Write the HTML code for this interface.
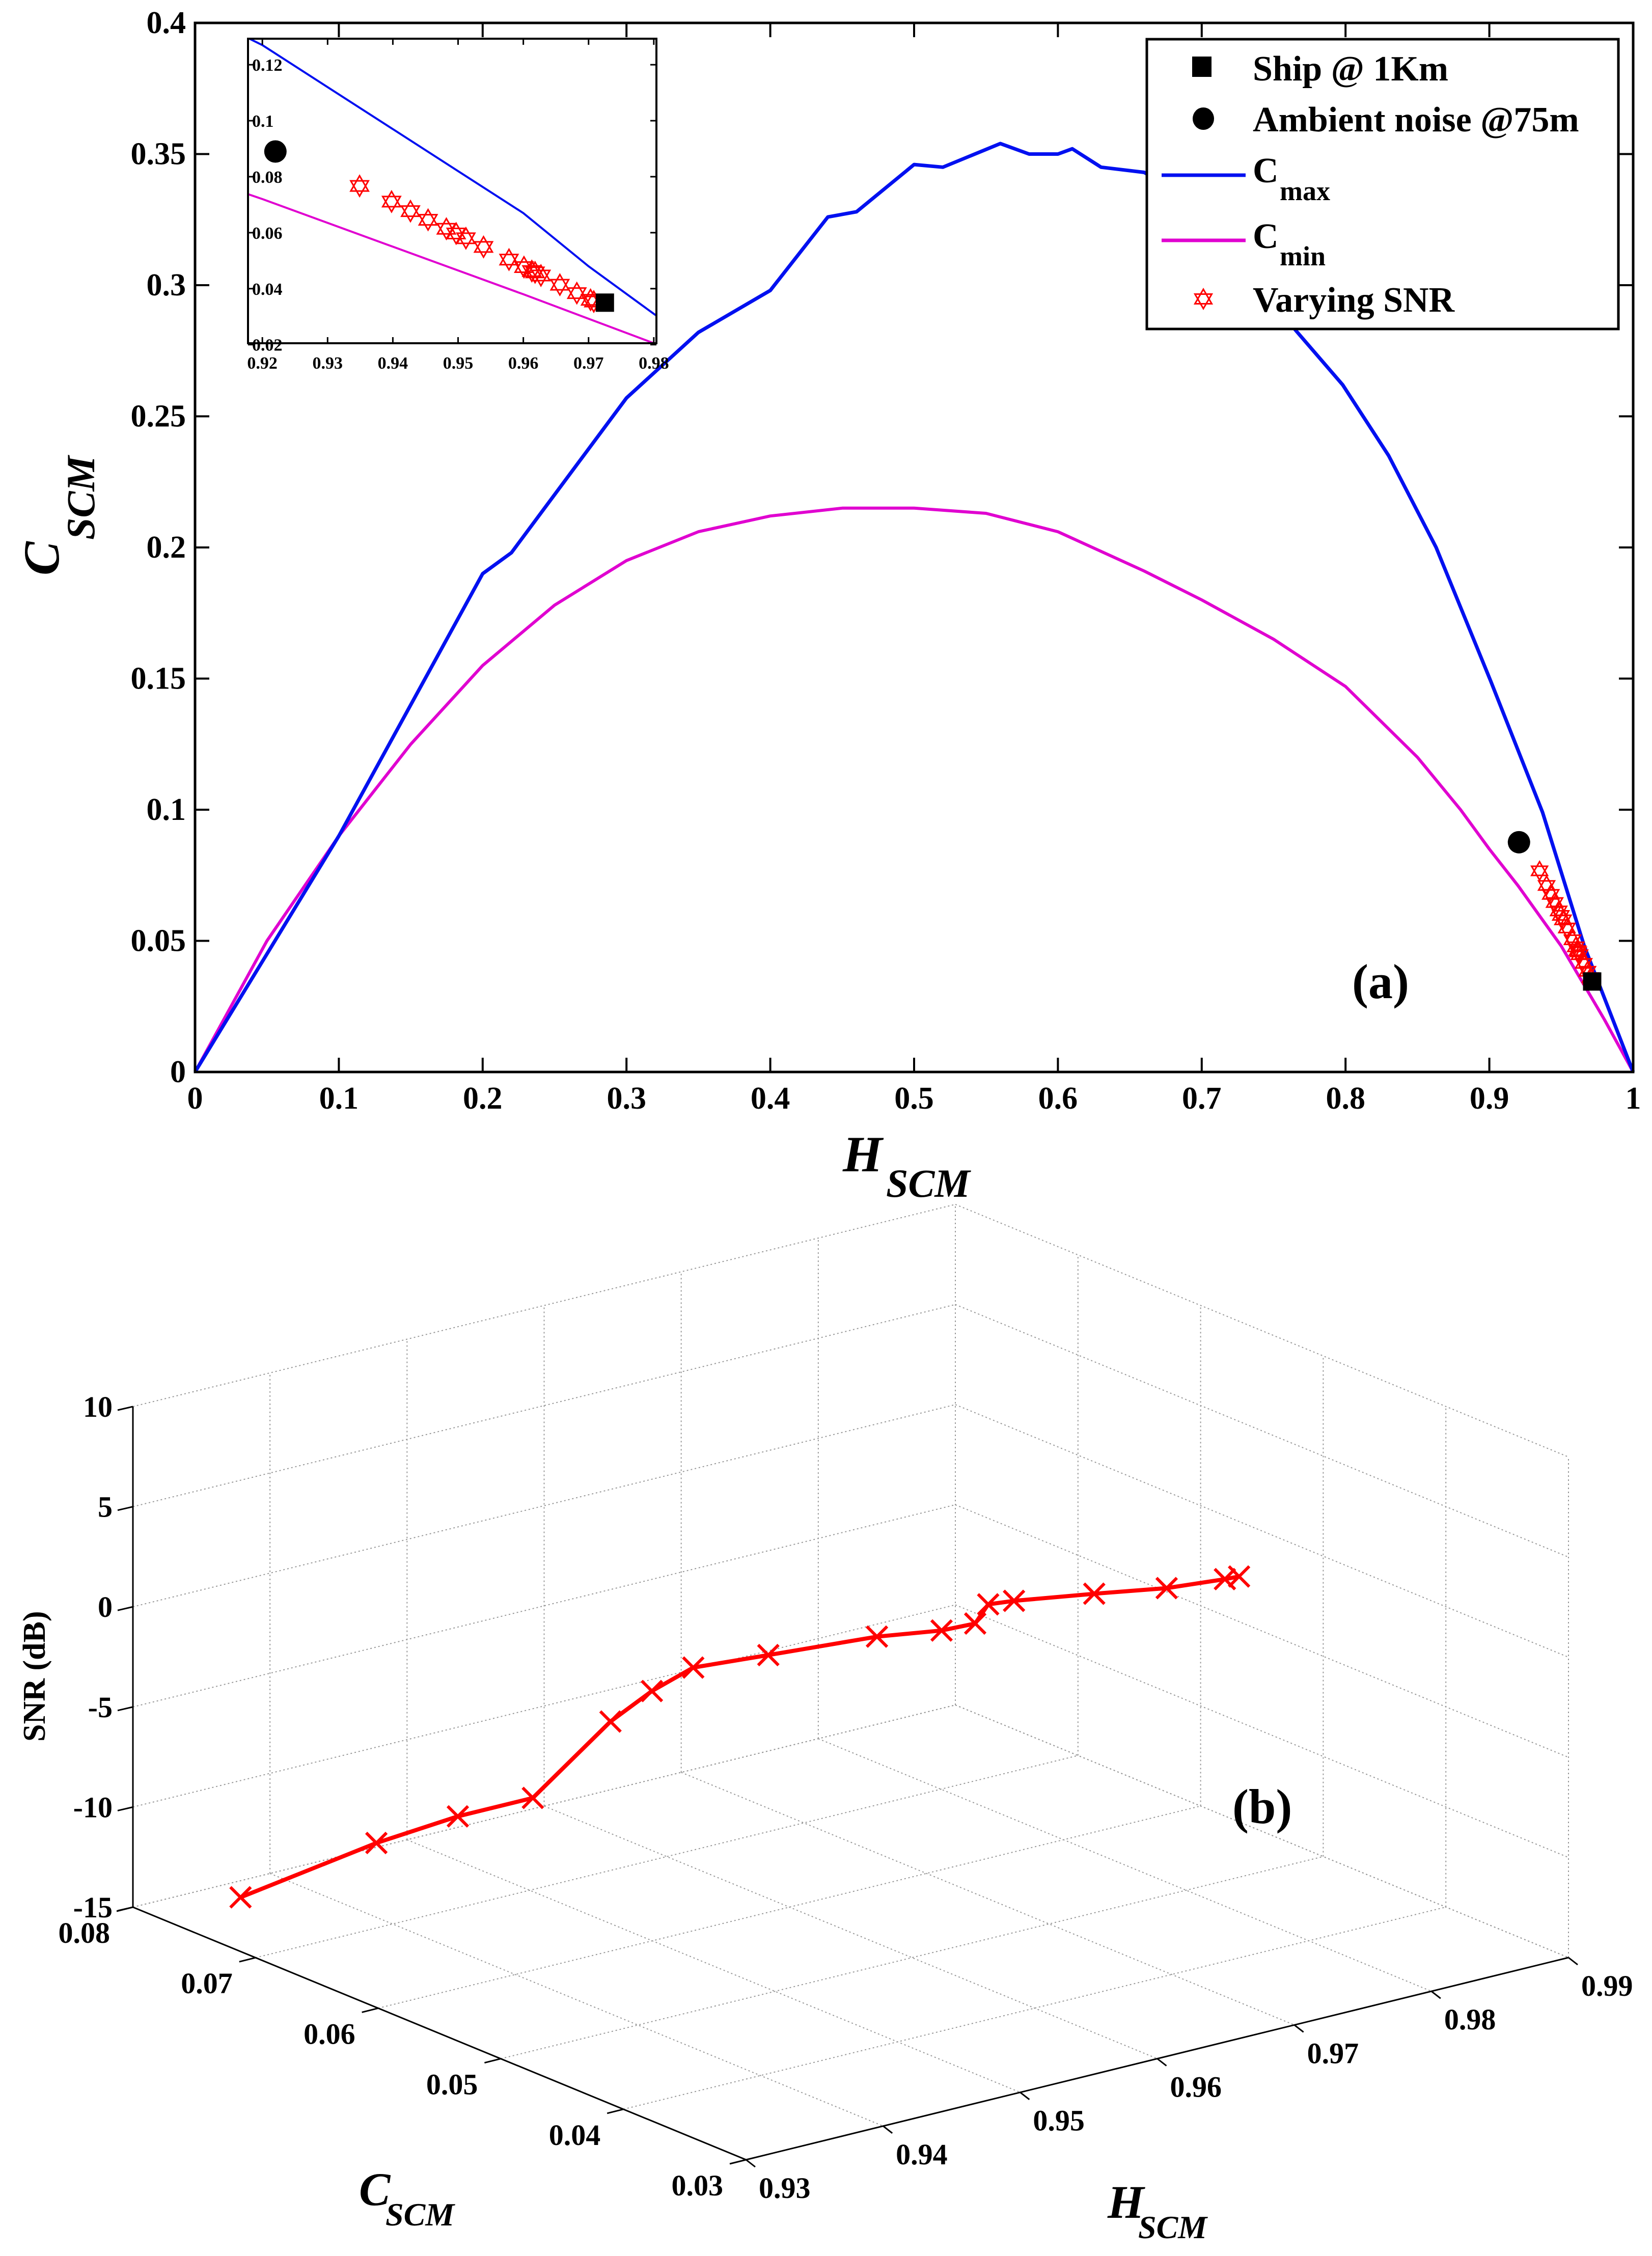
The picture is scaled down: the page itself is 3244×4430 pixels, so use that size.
<!DOCTYPE html>
<html><head><meta charset="utf-8"><style>
html,body{margin:0;padding:0;background:#fff;}
svg{display:block;}
text{font-family:"Liberation Serif",serif;font-weight:bold;fill:#000;}
</style></head><body>
<svg id="fig" xmlns="http://www.w3.org/2000/svg" width="3244" height="4430" viewBox="0 0 3244 4430">
<g id="pa"></g>
<g id="pb"></g>
</svg>
<script>
// ---- data ----
const cmaxH = [0,0.1,0.2,0.22,0.3,0.35,0.4,0.44,0.46,0.5,0.52,0.56,0.58,0.6,0.61,0.63,0.66,0.7,0.74,0.765,0.798,0.83,0.863,0.901,0.937,0.966,1];
const cmaxC = [0,0.09,0.19,0.198,0.257,0.282,0.298,0.326,0.328,0.346,0.345,0.354,0.35,0.35,0.352,0.345,0.343,0.33,0.305,0.283,0.262,0.235,0.2,0.149,0.099,0.048,0];
const cminH = [0,0.05,0.1,0.15,0.2,0.25,0.3,0.35,0.4,0.45,0.5,0.55,0.6,0.66,0.7,0.75,0.8,0.85,0.88,0.9,0.92,0.95,0.98,1];
const cminC = [0,0.05,0.09,0.125,0.155,0.178,0.195,0.206,0.212,0.215,0.215,0.213,0.206,0.191,0.18,0.165,0.147,0.12,0.1,0.085,0.071,0.048,0.02,0];
const inCmaxH = [0.9,0.92,0.94,0.96,0.97,0.98,1];
const inCmaxC = [0.15,0.127,0.097,0.067,0.048,0.031,0];
const inCminH = [0.9,0.92,0.94,0.96,0.98,1];
const inCminC = [0.088,0.072,0.055,0.038,0.0205,0];
const snrH = [0.9349,0.9398,0.9427,0.9454,0.9482,0.9497,0.9512,0.9539,0.9578,0.9601,0.9613,0.9618,0.9627,0.9656,0.9682,0.9703,0.9708];
const snrC = [0.0767,0.0711,0.0677,0.0646,0.0614,0.0597,0.0580,0.0549,0.0504,0.0477,0.0463,0.0458,0.0447,0.0414,0.0384,0.0360,0.0354];
const snrDb = [-14.5,-11.2,-9.5,-8.25,-4.1,-2.4,-1.05,-0.1,1.3,1.9,2.4,3.4,3.7,4.4,5.0,5.7,5.9];
const shipPt = [0.9715,0.0345];
const ambientPt = [0.9206,0.0876];
const xTicksA = [0,0.1,0.2,0.3,0.4,0.5,0.6,0.7,0.8,0.9,1];
const xTickLabelsA = ["0","0.1","0.2","0.3","0.4","0.5","0.6","0.7","0.8","0.9","1"];
const yTicksA = [0,0.05,0.1,0.15,0.2,0.25,0.3,0.35,0.4];
const yTickLabelsA = ["0","0.05","0.1","0.15","0.2","0.25","0.3","0.35","0.4"];
const xTicksIn = [0.92,0.93,0.94,0.95,0.96,0.97,0.98];
const xTickLabelsIn = ["0.92","0.93","0.94","0.95","0.96","0.97","0.98"];
const yTicksIn = [0.02,0.04,0.06,0.08,0.1,0.12];
const yTickLabelsIn = ["0.02","0.04","0.06","0.08","0.1","0.12"];
const hTicksB = [0.93,0.94,0.95,0.96,0.97,0.98,0.99];
const hTickLabelsB = ["0.93","0.94","0.95","0.96","0.97","0.98","0.99"];
const cTicksB = [0.08,0.07,0.06,0.05,0.04,0.03];
const cTickLabelsB = ["0.08","0.07","0.06","0.05","0.04","0.03"];
const zTicksB = [-15,-10,-5,0,5,10];
const zTickLabelsB = ["-15","-10","-5","0","5","10"];

const NS="http://www.w3.org/2000/svg";
function mk(parent,tag,attrs,txt){const e=document.createElementNS(NS,tag);for(const k in attrs)e.setAttribute(k,attrs[k]);if(txt!==undefined)e.textContent=txt;parent.appendChild(e);return e;}
const pa=document.getElementById('pa'), pb=document.getElementById('pb');

// ---- panel a axes ----
const AX0=383, AX1=3207, AY0=2105, AY1=45;
const sx=h=>AX0+(h-0)/(1-0)*(AX1-AX0);
const sy=c=>AY0-(c-0)/(0.4)*(AY0-AY1);
function poly(parent,xs,ys,fx,fy,stroke,w){return mk(parent,'polyline',{points:xs.map((v,i)=>fx(v).toFixed(1)+','+fy(ys[i]).toFixed(1)).join(' '),fill:'none',stroke:stroke,'stroke-width':w,'stroke-linejoin':'round'});}
let e;
e=poly(pa,cminH,cminC,sx,sy,'#e000d0',6);


e=poly(pa,cmaxH,cmaxC,sx,sy,'#0010f0',7);



function star(parent,x,y,r){const g=mk(parent,'g',{});
 const t=(a)=>[0,1,2].map(i=>{const an=a+i*2*Math.PI/3;return (x+r*Math.sin(an)).toFixed(1)+','+(y-r*Math.cos(an)).toFixed(1);}).join(' ');
 mk(g,'polygon',{points:t(0),fill:'none',stroke:'#f00','stroke-width':3});
 mk(g,'polygon',{points:t(Math.PI),fill:'none',stroke:'#f00','stroke-width':3});return g;}
snrH.forEach((h,i)=>{e=star(pa,sx(h),sy(snrC[i]),18);
 
 });
e=mk(pa,'rect',{x:sx(shipPt[0])-18,y:sy(shipPt[1])-18,width:36,height:36,fill:'#000'});


e=mk(pa,'circle',{cx:sx(ambientPt[0]),cy:sy(ambientPt[1]),r:22,fill:'#000'});



e=mk(pa,'rect',{x:AX0,y:AY1,width:AX1-AX0,height:AY0-AY1,fill:'none',stroke:'#000','stroke-width':5});


xTicksA.forEach((v,i)=>{const x=sx(v);
 mk(pa,'line',{x1:x,y1:AY0,x2:x,y2:AY0-28,stroke:'#000','stroke-width':4});
 mk(pa,'line',{x1:x,y1:AY1,x2:x,y2:AY1+28,stroke:'#000','stroke-width':4});
 e=mk(pa,'text',{x:x,y:AY0+72,'font-size':62,'text-anchor':'middle'},xTickLabelsA[i]);
 
 });
yTicksA.forEach((v,i)=>{const y=sy(v);
 mk(pa,'line',{x1:AX0,y1:y,x2:AX0+28,y2:y,stroke:'#000','stroke-width':4});
 mk(pa,'line',{x1:AX1,y1:y,x2:AX1-28,y2:y,stroke:'#000','stroke-width':4});
 e=mk(pa,'text',{x:AX0-18,y:y+20,'font-size':62,'text-anchor':'end'},yTickLabelsA[i]);
 
 });
e=mk(pa,'text',{x:1655,y:2300,'font-size':100,'font-style':'italic','font-weight':'normal'},'H');


mk(pa,'text',{x:1740,y:2350,'font-size':78,'font-style':'italic','font-weight':'normal'},'SCM');
e=mk(pa,'text',{x:0,y:0,'font-size':100,'font-style':'italic','font-weight':'normal',transform:'translate(115,1130) rotate(-90)'},'C');


mk(pa,'text',{x:0,y:0,'font-size':78,'font-style':'italic','font-weight':'normal',transform:'translate(185,1060) rotate(-90)'},'SCM');
e=mk(pa,'text',{x:2655,y:1960,'font-size':96},'(a)');



// ---- inset ----
const IX0=487, IX1=1289, IY0=674, IY1=76, IH0=0.9178, IH1=0.9804, IC0=0.0205, IC1=0.1293;
const ix=h=>IX0+(h-IH0)/(IH1-IH0)*(IX1-IX0);
const iy=c=>IY0-(c-IC0)/(IC1-IC0)*(IY0-IY1);
const ins=mk(pa,'g',{});


mk(ins,'rect',{x:IX0,y:IY1,width:IX1-IX0,height:IY0-IY1,fill:'#fff'});
mk(ins,'clipPath',{id:'ic'});
mk(document.getElementById('ic'),'rect',{x:IX0,y:IY1,width:IX1-IX0,height:IY0-IY1});
const ig=mk(ins,'g',{'clip-path':'url(#ic)'});
e=poly(ig,inCminH,inCminC,ix,iy,'#e000d0',4);


e=poly(ig,inCmaxH,inCmaxC,ix,iy,'#0010f0',4);


snrH.forEach((h,i)=>{e=star(ig,ix(h),iy(snrC[i]),20);
 
 });
e=mk(ig,'rect',{x:ix(0.9725)-18,y:iy(0.035)-18,width:36,height:36,fill:'#000'});


e=mk(ig,'circle',{cx:ix(0.922),cy:iy(0.089),r:22,fill:'#000'});


mk(ins,'rect',{x:IX0,y:IY1,width:IX1-IX0,height:IY0-IY1,fill:'none',stroke:'#000','stroke-width':4});
xTicksIn.forEach((v,i)=>{const x=ix(v);
 mk(ins,'line',{x1:x,y1:IY0,x2:x,y2:IY0-12,stroke:'#000','stroke-width':3});
 mk(ins,'line',{x1:x,y1:IY1,x2:x,y2:IY1+12,stroke:'#000','stroke-width':3});
 e=mk(ins,'text',{x:x,y:IY0+50,'font-size':34,'text-anchor':'middle'},xTickLabelsIn[i]);
 
 });
yTicksIn.forEach((v,i)=>{const y=iy(v);
 mk(ins,'line',{x1:IX0,y1:y,x2:IX0+12,y2:y,stroke:'#000','stroke-width':3});
 mk(ins,'line',{x1:IX1,y1:y,x2:IX1-12,y2:y,stroke:'#000','stroke-width':3});
 e=mk(ins,'text',{x:IX0+8,y:y+12,'font-size':34},yTickLabelsIn[i]);
 
 });

// ---- legend ----
const lg=mk(pa,'g',{});


mk(lg,'rect',{x:2252,y:77,width:926,height:569,fill:'#fff',stroke:'#000','stroke-width':5});
mk(lg,'rect',{x:2341,y:111,width:38,height:40,fill:'#000'});
e=mk(lg,'text',{x:2460,y:158,'font-size':70},'Ship @ 1Km');


mk(lg,'ellipse',{cx:2363,cy:233,rx:21,ry:22,fill:'#000'});
e=mk(lg,'text',{x:2460,y:258,'font-size':70},'Ambient noise @75m');


mk(lg,'line',{x1:2281,y1:344,x2:2446,y2:344,stroke:'#0010f0','stroke-width':7});
e=mk(lg,'text',{x:2460,y:358,'font-size':70},'C');


mk(lg,'text',{x:2513,y:393,'font-size':54},'max');
mk(lg,'line',{x1:2281,y1:472,x2:2446,y2:472,stroke:'#e000d0','stroke-width':7});
e=mk(lg,'text',{x:2460,y:487,'font-size':70},'C');


mk(lg,'text',{x:2513,y:521,'font-size':54},'min');
star(lg,2363,587,19);
e=mk(lg,'text',{x:2460,y:612,'font-size':70},'Varying SNR');



// ---- panel b (3D) ----
const O=[261,3745], CD=[1204,496], HD=[1615,-397], ZD=[0,-983];
function P(h,c,z){const a=(0.08-c)/0.05, b=(h-0.93)/0.06, t=(z+15)/25;
 return [O[0]+a*CD[0]+b*HD[0]+t*ZD[0], O[1]+a*CD[1]+b*HD[1]+t*ZD[1]];}
function L(p,q,attrs){return mk(pb,'line',Object.assign({x1:p[0],y1:p[1],x2:q[0],y2:q[1]},attrs));}
const gs={stroke:'#999','stroke-width':2,'stroke-dasharray':'3,5'};
hTicksB.forEach(h=>L(P(h,0.08,-15),P(h,0.08,10),gs));
zTicksB.forEach(z=>L(P(0.93,0.08,z),P(0.99,0.08,z),gs));
cTicksB.forEach(c=>L(P(0.99,c,-15),P(0.99,c,10),gs));
zTicksB.forEach(z=>L(P(0.99,0.08,z),P(0.99,0.03,z),gs));
hTicksB.forEach(h=>L(P(h,0.08,-15),P(h,0.03,-15),gs));
cTicksB.forEach(c=>L(P(0.93,c,-15),P(0.99,c,-15),gs));
const as={stroke:'#000','stroke-width':3};
e=L(P(0.93,0.08,-15),P(0.93,0.08,10),as);


e=L(P(0.93,0.08,-15),P(0.93,0.03,-15),as);


e=L(P(0.93,0.03,-15),P(0.99,0.03,-15),as);


zTicksB.forEach((z,i)=>{const p=P(0.93,0.08,z);
 L(p,[p[0]-30,p[1]+7],as);
 e=mk(pb,'text',{x:p[0]-40,y:p[1]+20,'font-size':58,'font-weight':'normal','text-anchor':'end'},zTickLabelsB[i]);
 
 });
cTicksB.forEach((c,i)=>{const p=P(0.93,c,-15);
 L(p,[p[0]-32,p[1]+8],as);
 e=mk(pb,'text',{x:p[0]-45,y:p[1]+70,'font-size':58,'font-weight':'normal','text-anchor':'end'},cTickLabelsB[i]);
 
 });
hTicksB.forEach((h,i)=>{const p=P(h,0.03,-15);
 L(p,[p[0]+18,p[1]+14],as);
 e=mk(pb,'text',{x:p[0]+25,y:p[1]+75,'font-size':58,'font-weight':'normal'},hTickLabelsB[i]);
 
 });
const pts=snrH.map((h,i)=>P(h,snrC[i],snrDb[i]));
e=mk(pb,'polyline',{points:pts.map(p=>p[0].toFixed(1)+','+p[1].toFixed(1)).join(' '),fill:'none',stroke:'#f00','stroke-width':8,'stroke-linejoin':'round'});


pts.forEach(p=>{const g=mk(pb,'g',{stroke:'#f00','stroke-width':6});
 mk(g,'line',{x1:p[0]-20,y1:p[1]-20,x2:p[0]+20,y2:p[1]+20});
 mk(g,'line',{x1:p[0]-20,y1:p[1]+20,x2:p[0]+20,y2:p[1]-20});
 
 });
e=mk(pb,'text',{x:0,y:0,'font-size':62,transform:'translate(88,3420) rotate(-90)'},'SNR (dB)');


e=mk(pb,'text',{x:705,y:4330,'font-size':92,'font-style':'italic','font-weight':'normal'},'C');


mk(pb,'text',{x:757,y:4370,'font-size':64,'font-style':'italic','font-weight':'normal'},'SCM');
e=mk(pb,'text',{x:2175,y:4355,'font-size':92,'font-style':'italic','font-weight':'normal'},'H');


mk(pb,'text',{x:2235,y:4395,'font-size':64,'font-style':'italic','font-weight':'normal'},'SCM');
e=mk(pb,'text',{x:2420,y:3580,'font-size':96},'(b)');


</script>
</body></html>
